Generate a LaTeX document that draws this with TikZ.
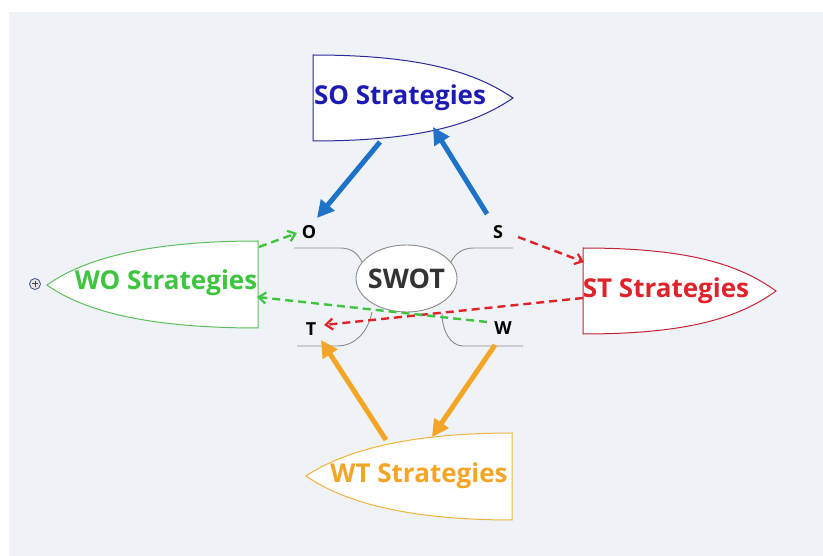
\documentclass[tikz,border=0pt]{standalone}
\usepackage{fontspec}
\setmainfont{Open Sans}
\usetikzlibrary{arrows.meta,calc,shapes.geometric}
\definecolor{bgc}{HTML}{EFF3F7}
\definecolor{sotext}{HTML}{1C1CB4}
\definecolor{soline}{HTML}{2A2A9C}
\definecolor{bluearr}{HTML}{1E72C8}
\definecolor{grn}{HTML}{3EC43E}
\definecolor{grnline}{HTML}{5CBF5C}
\definecolor{redt}{HTML}{E0222A}
\definecolor{redline}{HTML}{C42436}
\definecolor{orng}{HTML}{F4A526}
\definecolor{orngline}{HTML}{F0B43C}
\definecolor{gline}{HTML}{8A8A8A}
\tikzset{
  lbl/.style={font=\bfseries\fontsize{26}{29}\selectfont, inner sep=0pt},
  letter/.style={font=\bfseries\fontsize{18}{20}\selectfont, inner sep=0pt, text=black},
  thickarr/.style={line width=5pt, -{Triangle[length=17pt,width=17pt]}},
  dasharr/.style={line width=2.4pt, dash pattern=on 8pt off 5pt, -{Straight Barb[length=7pt,width=11pt,line width=2.2pt]}},
  branch/.style={draw=gline, line width=0.9pt},
}
\begin{document}
\begin{tikzpicture}[x=1pt,y=-1pt]
\useasboundingbox (0,0) rectangle (823,556);
\fill[white] (0,0) rectangle (823,556);
\fill[bgc] (9,12) rectangle (823,556);

% SO shape
\draw[soline, fill=white, line width=1pt] (313,55) .. controls (420,55) and (475,72) .. (513,98)
  .. controls (475,124) and (420,141) .. (313,141) -- cycle;
\node[lbl, text=sotext] (so) at (400,98) {SO Strategies};

% WO shape
\draw[grnline, fill=white, line width=1pt] (258,241) .. controls (150,241) and (85,258) .. (47,285)
  .. controls (85,312) and (150,328) .. (258,328) -- cycle;
\node[lbl, text=grn] (wo) at (166,283) {WO Strategies};

% ST shape
\draw[redline, fill=white, line width=1pt] (583,248) .. controls (690,248) and (740,265) .. (776,291)
  .. controls (740,317) and (690,334) .. (583,334) -- cycle;
\node[lbl, text=redt] (st) at (666,291) {ST Strategies};

% WT shape
\draw[orngline, fill=white, line width=1pt] (512,433) .. controls (410,433) and (345,450) .. (306,476)
  .. controls (345,503) and (410,520) .. (512,520) -- cycle;
\node[lbl, text=orng] (wt) at (419,476) {WT Strategies};

% plus icon
\node[circle, draw=gray!70!blue!80!black, fill=gray!20, minimum size=11pt, inner sep=0pt, line width=0.8pt] (plus) at (35,284) {};
\draw[black!75, line width=1pt] ($(plus)+(-3,0)$) -- ($(plus)+(3,0)$);
\draw[black!75, line width=1pt] ($(plus)+(0,-3)$) -- ($(plus)+(0,3)$);

% branches
\draw[branch] (294,248) -- (340,248) .. controls (352,248) and (358,254) .. (362,262);
\draw[branch] (513,248) -- (474,248) .. controls (462,248) and (455,254) .. (451,262);
\draw[branch] (297,346) -- (337,346) .. controls (355,346) and (368,332) .. (372,312);
\draw[branch] (523,346) -- (463,346) .. controls (450,346) and (442,330) .. (442,313);

% SWOT
\node[ellipse, draw=gline, fill=white, line width=0.9pt, minimum width=101pt, minimum height=67pt, inner sep=0pt] (swot) at (406.5,278.5) {};
\node[font=\bfseries\fontsize{27}{30}\selectfont, text=black!80, inner sep=0pt] (swottxt) at (406.5,279) {SWOT};

\node[letter] (o) at (309,232) {O};
\node[letter] (s) at (498,232) {S};
\node[letter] (t) at (311,329) {T};
\node[letter] (w) at (503,328) {W};

% arrow coordinates
\coordinate (soA) at (380,142);
\coordinate (oE) at (317,218);
\coordinate (sA) at (487,214);
\coordinate (soE) at (433,127);
\coordinate (sB) at (518,237);
\coordinate (stE) at (584,262);
\coordinate (stA) at (583,298);
\coordinate (tE) at (324,325);
\coordinate (woA) at (259,247);
\coordinate (oF) at (297,233);
\coordinate (wA) at (487,322);
\coordinate (woE) at (257,297);
\coordinate (wtA) at (386,440);
\coordinate (tF) at (321,340);
\coordinate (wB) at (495,345);
\coordinate (wtE) at (432,437);

\draw[bluearr, thickarr] (soA) -- (oE);
\draw[bluearr, thickarr] (sA) -- (soE);
\draw[redt, dasharr] (sB) -- (stE);
\draw[redt, dasharr] (stA) -- (tE);
\draw[grn, dasharr] (woA) -- (oF);
\draw[grn, dasharr] (wA) -- (woE);
\draw[orng, thickarr] (wtA) -- (tF);
\draw[orng, thickarr] (wB) -- (wtE);
\end{tikzpicture}
\end{document}
